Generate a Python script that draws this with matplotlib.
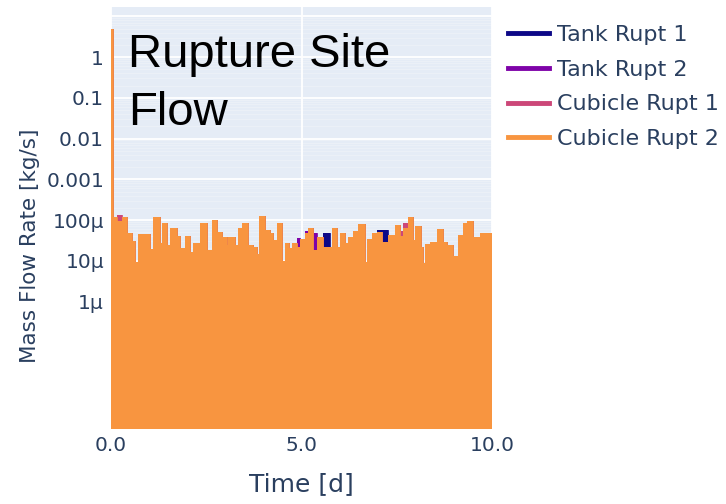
import numpy as np
import matplotlib.pyplot as plt
from matplotlib.lines import Line2D

# step edges [d] and flow per step [kg/s]
t_edges = [0, 0.06, 0.15, 0.28, 0.41, 0.54, 0.63, 0.72, 1.02, 1.11, 1.29, 1.33, 1.46,
           1.55, 1.72, 1.81, 1.94, 2.07, 2.16, 2.34, 2.51, 2.64, 2.77, 2.91, 3.04, 3.08,
           3.25, 3.34, 3.43, 3.60, 3.73, 3.82, 3.89, 4.04, 4.17, 4.26, 4.35, 4.48, 4.57,
           4.66, 4.74, 4.87, 4.96, 5.09, 5.18, 5.31, 5.40, 5.49, 5.57, 5.75, 5.79, 5.92,
           6.01, 6.14, 6.23, 6.36, 6.49, 6.67, 6.71, 6.84, 6.97, 7.10, 7.28, 7.45, 7.59,
           7.66, 7.80, 7.93, 7.98, 8.14, 8.20, 8.24, 8.37, 8.55, 8.71, 8.82, 8.98, 9.11,
           9.24, 9.35, 9.50, 9.69, 10.0]

cub2 = [5.0, 1.2e-4, 9.5e-5, 1.2e-4, 4.7e-5, 3.0e-5, 9.5e-6, 4.5e-5, 1.9e-5, 1.2e-4,
        2.7e-5, 8.6e-5, 2.5e-5, 6.5e-5, 4.0e-5, 2.0e-5, 4.0e-5, 1.6e-5, 2.7e-5, 8.6e-5,
        1.8e-5, 1.0e-4, 5.2e-5, 3.9e-5, 2.4e-5, 3.8e-5, 2.4e-5, 6.5e-5, 8.6e-5, 2.4e-5,
        2.2e-5, 1.5e-5, 1.28e-4, 5.7e-5, 4.9e-5, 3.2e-5, 8.3e-5, 1.0e-5, 2.7e-5, 2.0e-5,
        2.7e-5, 2.2e-5, 3.5e-5, 4.7e-5, 6.5e-5, 1.8e-5, 3.8e-5, 3.9e-5, 2.2e-5, 2.2e-5,
        6.3e-5, 2.2e-5, 4.9e-5, 2.7e-5, 3.9e-5, 5.5e-5, 7.8e-5, 9.5e-6, 3.4e-5, 4.9e-5,
        5.2e-5, 2.9e-5, 4.4e-5, 7.5e-5, 4.0e-5, 6.5e-5, 1.2e-4, 3.3e-5, 7.0e-5, 2.2e-5,
        9.0e-6, 2.6e-5, 2.9e-5, 6.0e-5, 2.9e-5, 2.4e-5, 1.3e-5, 4.4e-5, 8.5e-5, 9.5e-5,
        3.9e-5, 4.7e-5]

# the other ruptures follow Cubicle Rupt 2 except where they peek out above it
cub1 = list(cub2)
cub1[2] = 1.33e-4
cub1[64] = 5.5e-5
cub1[65] = 8.6e-5

tank2 = list(cub2)
tank2[41] = 3.6e-5
tank2[45] = 4.8e-5
tank2[43] = 5.3e-5

tank1 = list(cub2)
tank1[48] = 4.7e-5
tank1[60] = 5.6e-5
tank1[61] = 5.6e-5

names = ["Tank Rupt 1", "Tank Rupt 2", "Cubicle Rupt 1", "Cubicle Rupt 2"]
colors = ["#0d0887", "#7e03a8", "#cc4778", "#f89540"]
series = [tank1, tank2, cub1, cub2]

ytick_vals = [1, 0.1, 0.01, 0.001, 1e-4, 1e-5, 1e-6]
ytick_labels = ["1", "0.1", "0.01", "0.001", "100µ", "10µ", "1µ"]
xtick_vals = [0, 5, 10]
xtick_labels = ["0.0", "5.0", "10.0"]

txt = "#2a3f5f"
plt.rcParams['font.family'] = ['DejaVu Sans']

fig = plt.figure(figsize=(7.26, 5.04), dpi=100)
ax = fig.add_axes([111/726, 75/504, 381/726, 422/504])
ax.set_facecolor("#e5ecf6")
ax.set_yscale("log")
ax.set_xlim(0, 10)
ax.set_ylim(7.4e-10, 17)

floor = 1e-12
for vals, c in zip(series, colors):
    y = list(vals) + [vals[-1]]
    ax.fill_between(t_edges, y, floor, step="post", color=c, lw=0, zorder=2)
    ax.step(t_edges, y, where="post", color=c, lw=0.6, zorder=2)

ax.set_yticks(ytick_vals)
ax.set_yticklabels(ytick_labels)
ax.set_yticks([], minor=True)
ax.set_xticks(xtick_vals)
ax.set_xticklabels(xtick_labels)
ax.tick_params(axis="both", length=0, labelsize=14.5, colors=txt, pad=5)

# grid: decades white, minor log lines faint
for d in range(-9, 2):
    ax.axhline(10.0**d, color="white", lw=1.3, zorder=1)
    for m in range(2, 10):
        ax.axhline(m * 10.0**d, color="#ecf1f8", lw=0.7, zorder=0.9)
for xv in xtick_vals:
    ax.axvline(xv, color="white", lw=1.3, zorder=1)
for s in ax.spines.values():
    s.set_visible(False)

ax.set_xlabel("Time [d]", fontsize=18, color=txt, labelpad=12)
ax.set_ylabel("Mass Flow Rate [kg/s]", fontsize=15.5, color=txt)
ax.yaxis.set_label_coords(-71/381, (504 - 246 - 75) / 422)

fig.text(128/726, 1 - 33/504, "Rupture Site\nFlow", fontsize=34, color="black",
         family="Liberation Sans", va="top", ha="left", linespacing=1.42)

handles = [Line2D([0], [0], color=c, lw=3.5) for c in colors]
leg = fig.legend(handles, names, loc="upper left", bbox_to_anchor=(488/726, 1 - 5/504),
                 frameon=False, fontsize=16, handlelength=1.85, handletextpad=0.35,
                 labelspacing=0.66)
for t in leg.get_texts():
    t.set_color(txt)

fig.savefig("out.png", dpi=100)
